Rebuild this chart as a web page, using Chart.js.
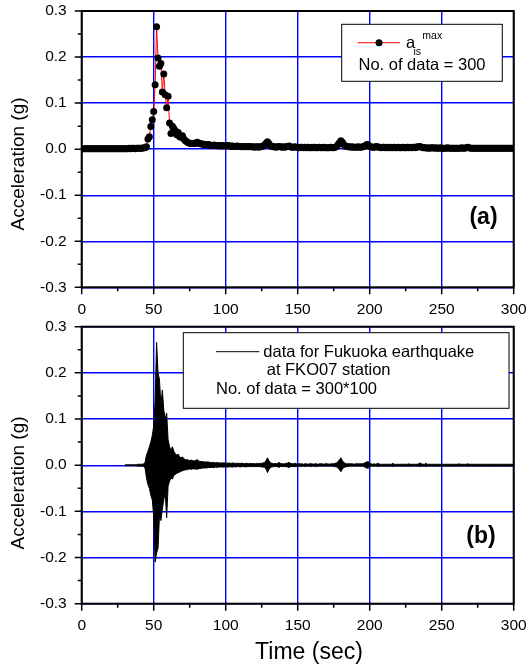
<!DOCTYPE html>
<html>
<head>
<meta charset="utf-8">
<script src="https://cdn.jsdelivr.net/npm/chart.js@4.4.0/dist/chart.umd.min.js"></script>
<style>
  body { margin: 0; background: #fff; }
  canvas { display: block; }
</style>
</head>
<body>
<canvas id="graficoA" width="527" height="320"></canvas>
<canvas id="graficoB" width="527" height="346"></canvas>
<script>
// tempo (s), um ponto por segundo
const segundos = Array.from({ length: 300 }, (_, i) => i + 1);

// (a) aceleracao maxima por segundo, a_is^max (g)
const aisMax = [
  0.001, 0.001, 0.001, 0.001, 0.001, 0.001, 0.001, 0.001, 0.001, 0.001,
  0.001, 0.001, 0.001, 0.001, 0.001, 0.001, 0.001, 0.001, 0.001, 0.001,
  0.001, 0.001, 0.001, 0.001, 0.001, 0.001, 0.001, 0.001, 0.001, 0.001,
  0.001, 0.001, 0.002, 0.001, 0.002, 0.002, 0.001, 0.002, 0.002, 0.002,
  0.002, 0.002, 0.003, 0.003, 0.005, 0.022, 0.027, 0.049, 0.064, 0.082,
  0.140, 0.266, 0.198, 0.180, 0.186, 0.124, 0.163, 0.118, 0.090, 0.115,
  0.057, 0.034, 0.050, 0.045, 0.040, 0.031, 0.036, 0.027, 0.026, 0.029,
  0.022, 0.018, 0.016, 0.014, 0.013, 0.012, 0.013, 0.012, 0.012, 0.015,
  0.014, 0.012, 0.011, 0.011, 0.010, 0.010, 0.009, 0.010, 0.009, 0.008,
  0.008, 0.009, 0.008, 0.008, 0.007, 0.008, 0.007, 0.008, 0.007, 0.008,
  0.007, 0.008, 0.007, 0.006, 0.007, 0.006, 0.006, 0.007, 0.006, 0.006,
  0.005, 0.006, 0.005, 0.006, 0.005, 0.005, 0.006, 0.005, 0.005, 0.004,
  0.005, 0.005, 0.004, 0.005, 0.006, 0.007, 0.009, 0.013, 0.016, 0.012,
  0.008, 0.006, 0.005, 0.005, 0.004, 0.005, 0.006, 0.005, 0.004, 0.005,
  0.004, 0.005, 0.006, 0.007, 0.005, 0.004, 0.004, 0.005, 0.004, 0.004,
  0.003, 0.004, 0.004, 0.003, 0.004, 0.003, 0.004, 0.003, 0.003, 0.004,
  0.003, 0.004, 0.003, 0.003, 0.004, 0.003, 0.003, 0.004, 0.003, 0.003,
  0.003, 0.003, 0.004, 0.003, 0.003, 0.004, 0.006, 0.010, 0.014, 0.018,
  0.015, 0.010, 0.007, 0.006, 0.005, 0.005, 0.004, 0.005, 0.004, 0.004,
  0.004, 0.005, 0.004, 0.004, 0.005, 0.006, 0.008, 0.010, 0.009, 0.006,
  0.005, 0.004, 0.004, 0.005, 0.006, 0.004, 0.004, 0.003, 0.004, 0.004,
  0.003, 0.004, 0.003, 0.004, 0.003, 0.003, 0.004, 0.003, 0.003, 0.004,
  0.003, 0.003, 0.004, 0.003, 0.003, 0.004, 0.003, 0.004, 0.003, 0.004,
  0.004, 0.003, 0.005, 0.005, 0.006, 0.004, 0.003, 0.003, 0.003, 0.002,
  0.003, 0.002, 0.003, 0.003, 0.002, 0.003, 0.002, 0.002, 0.003, 0.002,
  0.002, 0.002, 0.002, 0.003, 0.002, 0.002, 0.002, 0.002, 0.002, 0.002,
  0.002, 0.002, 0.002, 0.003, 0.002, 0.002, 0.003, 0.004, 0.003, 0.002,
  0.002, 0.002, 0.002, 0.002, 0.002, 0.002, 0.002, 0.002, 0.002, 0.002,
  0.002, 0.002, 0.002, 0.002, 0.002, 0.002, 0.002, 0.002, 0.002, 0.002,
  0.002, 0.002, 0.002, 0.002, 0.002, 0.002, 0.002, 0.002, 0.002, 0.002
];

// (b) registro do sismo: pico e vale lidos em cada segundo (g)
const picoSismo = [
  null, null, null, null, null, null, null, null, null, null,
  null, null, null, null, null, null, null, null, null, null,
  null, null, null, null, null, null, null, null, null, 0.001,
  0.001, 0.001, 0.001, 0.001, 0.001, 0.001, 0.001, 0.001, 0.002, 0.002,
  0.002, 0.002, 0.003, 0.006, 0.022, 0.030, 0.040, 0.050, 0.064, 0.085,
  0.140, 0.266, 0.200, 0.186, 0.130, 0.163, 0.120, 0.100, 0.113, 0.055,
  0.040, 0.032, 0.040, 0.030, 0.025, 0.022, 0.024, 0.018, 0.016, 0.018,
  0.014, 0.012, 0.012, 0.011, 0.010, 0.011, 0.010, 0.009, 0.010, 0.012,
  0.010, 0.008, 0.008, 0.008, 0.007, 0.007, 0.007, 0.007, 0.006, 0.006,
  0.006, 0.006, 0.005, 0.006, 0.005, 0.005, 0.005, 0.005, 0.005, 0.005,
  0.004, 0.005, 0.004, 0.004, 0.005, 0.004, 0.004, 0.004, 0.004, 0.004,
  0.004, 0.004, 0.003, 0.004, 0.004, 0.003, 0.004, 0.003, 0.004, 0.003,
  0.003, 0.004, 0.003, 0.004, 0.004, 0.005, 0.006, 0.010, 0.016, 0.010,
  0.006, 0.004, 0.003, 0.004, 0.003, 0.004, 0.006, 0.004, 0.003, 0.003,
  0.003, 0.004, 0.005, 0.006, 0.004, 0.003, 0.003, 0.004, 0.003, 0.003,
  0.003, 0.003, 0.003, 0.002, 0.003, 0.003, 0.002, 0.003, 0.003, 0.003,
  0.002, 0.003, 0.003, 0.002, 0.003, 0.003, 0.003, 0.002, 0.003, 0.003,
  0.003, 0.002, 0.003, 0.003, 0.003, 0.004, 0.005, 0.008, 0.012, 0.016,
  0.010, 0.006, 0.004, 0.003, 0.003, 0.003, 0.003, 0.003, 0.002, 0.003,
  0.003, 0.003, 0.003, 0.003, 0.003, 0.004, 0.006, 0.007, 0.008, 0.004,
  0.003, 0.002, 0.003, 0.002, 0.003, 0.004, 0.002, 0.002, 0.002, 0.002,
  0.002, 0.002, 0.002, 0.002, 0.002, 0.004, 0.002, 0.002, 0.002, 0.002,
  0.002, 0.002, 0.002, 0.002, 0.002, 0.002, 0.003, 0.002, 0.002, 0.002,
  0.002, 0.002, 0.002, 0.003, 0.005, 0.003, 0.002, 0.002, 0.004, 0.002,
  0.002, 0.002, 0.002, 0.002, 0.002, 0.002, 0.002, 0.002, 0.002, 0.002,
  0.002, 0.002, 0.002, 0.002, 0.002, 0.002, 0.002, 0.002, 0.002, 0.002,
  0.002, 0.003, 0.002, 0.002, 0.002, 0.002, 0.002, 0.003, 0.002, 0.002,
  0.002, 0.002, 0.002, 0.002, 0.002, 0.002, 0.002, 0.002, 0.002, 0.002,
  0.002, 0.002, 0.002, 0.002, 0.002, 0.002, 0.002, 0.002, 0.002, 0.002,
  0.002, 0.002, 0.002, 0.002, 0.002, 0.002, 0.002, 0.002, 0.002, 0.002
];
const valeSismo = [
  null, null, null, null, null, null, null, null, null, null,
  null, null, null, null, null, null, null, null, null, null,
  null, null, null, null, null, null, null, null, null, -0.001,
  -0.001, -0.001, -0.001, -0.001, -0.001, -0.001, -0.001, -0.001, -0.002, -0.002,
  -0.002, -0.002, -0.003, -0.006, -0.028, -0.042, -0.050, -0.065, -0.075, -0.110,
  -0.210, -0.190, -0.180, -0.110, -0.120, -0.095, -0.075, -0.060, -0.114, -0.045,
  -0.035, -0.028, -0.030, -0.022, -0.020, -0.018, -0.016, -0.015, -0.013, -0.012,
  -0.011, -0.010, -0.010, -0.009, -0.008, -0.009, -0.008, -0.008, -0.008, -0.009,
  -0.008, -0.007, -0.007, -0.006, -0.006, -0.006, -0.006, -0.005, -0.005, -0.005,
  -0.005, -0.005, -0.004, -0.005, -0.004, -0.004, -0.004, -0.004, -0.004, -0.004,
  -0.004, -0.004, -0.003, -0.004, -0.004, -0.003, -0.004, -0.003, -0.003, -0.004,
  -0.003, -0.003, -0.003, -0.004, -0.003, -0.003, -0.003, -0.003, -0.003, -0.003,
  -0.003, -0.003, -0.003, -0.003, -0.004, -0.004, -0.005, -0.008, -0.016, -0.010,
  -0.005, -0.004, -0.003, -0.003, -0.003, -0.003, -0.005, -0.003, -0.003, -0.003,
  -0.003, -0.003, -0.004, -0.005, -0.003, -0.003, -0.003, -0.003, -0.003, -0.003,
  -0.002, -0.003, -0.002, -0.002, -0.003, -0.002, -0.002, -0.002, -0.003, -0.002,
  -0.002, -0.002, -0.003, -0.002, -0.002, -0.002, -0.002, -0.002, -0.002, -0.002,
  -0.002, -0.002, -0.002, -0.002, -0.003, -0.003, -0.004, -0.006, -0.010, -0.014,
  -0.009, -0.005, -0.004, -0.003, -0.003, -0.002, -0.002, -0.002, -0.002, -0.002,
  -0.002, -0.002, -0.002, -0.002, -0.002, -0.003, -0.005, -0.006, -0.007, -0.003,
  -0.002, -0.002, -0.002, -0.002, -0.002, -0.003, -0.002, -0.002, -0.002, -0.002,
  -0.002, -0.002, -0.002, -0.002, -0.002, -0.003, -0.002, -0.002, -0.002, -0.002,
  -0.002, -0.002, -0.002, -0.002, -0.002, -0.002, -0.002, -0.002, -0.002, -0.002,
  -0.002, -0.002, -0.002, -0.002, -0.003, -0.002, -0.002, -0.002, -0.003, -0.002,
  -0.002, -0.002, -0.002, -0.002, -0.002, -0.002, -0.002, -0.002, -0.002, -0.002,
  -0.002, -0.002, -0.002, -0.002, -0.002, -0.002, -0.002, -0.002, -0.002, -0.002,
  -0.002, -0.002, -0.002, -0.002, -0.002, -0.002, -0.002, -0.002, -0.002, -0.002,
  -0.002, -0.002, -0.002, -0.002, -0.002, -0.002, -0.002, -0.002, -0.002, -0.002,
  -0.002, -0.002, -0.002, -0.002, -0.002, -0.002, -0.002, -0.002, -0.002, -0.002,
  -0.002, -0.002, -0.002, -0.002, -0.002, -0.002, -0.002, -0.002, -0.002, -0.002
];

// eixos
const xMin = 0, xMax = 300, xPasso = 50, xPassoMenor = 25;
const yMin = -0.3, yMax = 0.3, yPasso = 0.1, yPassoMenor = 0.05;

const FONTE = '"Liberation Sans", Arial, sans-serif';
const ESQ = 81.7, DIR = 513.7; // bordas da area de plotagem (px)

// marcas dos eixos, moldura e textos
function desenharExtras(chart, extras) {
  const ctx = chart.ctx;
  const a = chart.chartArea;
  const sx = chart.scales.x, sy = chart.scales.y;
  ctx.save();

  // marcas (para fora)
  ctx.strokeStyle = '#000';
  ctx.lineWidth = 1.5;
  ctx.beginPath();
  for (let v = xMin; v <= xMax + 0.001; v += xPassoMenor) {
    const px = sx.getPixelForValue(v);
    const len = (Math.round(v) % xPasso === 0) ? 7 : 4;
    ctx.moveTo(px, a.bottom);
    ctx.lineTo(px, a.bottom + len);
  }
  for (let k = 0; k <= Math.round((yMax - yMin) / yPassoMenor); k++) {
    const v = yMin + k * yPassoMenor;
    const py = sy.getPixelForValue(v);
    const len = (k % 2 === 0) ? 7 : 4;
    ctx.moveTo(a.left, py);
    ctx.lineTo(a.left - len, py);
  }
  ctx.stroke();

  // moldura
  ctx.lineWidth = 2;
  ctx.strokeRect(a.left, a.top, a.right - a.left, a.bottom - a.top);

  // titulo do eixo y
  ctx.fillStyle = '#000';
  ctx.font = '19px ' + FONTE;
  ctx.textAlign = 'center';
  ctx.textBaseline = 'middle';
  ctx.save();
  ctx.translate(18.5, extras.yTituloY);
  ctx.rotate(-Math.PI / 2);
  ctx.fillText('Acceleration (g)', 0, 0);
  ctx.restore();

  // rotulo do painel
  ctx.font = 'bold 23px ' + FONTE;
  ctx.fillText(extras.rotulo, extras.rotuloX, extras.rotuloY);

  if (extras.xTitulo) {
    ctx.font = '23px ' + FONTE;
    ctx.fillText(extras.xTitulo, extras.xTituloX, extras.xTituloY);
  }

  // legenda
  const L = extras.legenda;
  ctx.fillStyle = '#fff';
  ctx.fillRect(L.x, L.y, L.w, L.h);
  ctx.strokeStyle = '#000';
  ctx.lineWidth = 1;
  ctx.strokeRect(L.x, L.y, L.w, L.h);
  L.desenhar(ctx);

  ctx.restore();
}

function opcoesEixos(altura, base) {
  return {
    x: {
      type: 'linear', min: xMin, max: xMax,
      ticks: { stepSize: xPasso, color: '#000', padding: 13, maxRotation: 0,
               font: { family: FONTE, size: 15.5 } },
      grid: { color: '#0000ff', lineWidth: 1.4, drawTicks: false },
      border: { display: false },
      afterFit: (s) => { s.height = altura - base; s.paddingLeft = 0; s.paddingRight = 0; }
    },
    y: {
      min: yMin, max: yMax,
      ticks: { stepSize: yPasso, color: '#000', padding: 15,
               font: { family: FONTE, size: 15.5 },
               callback: (v) => (Math.abs(v) < 1e-9 ? 0 : v).toFixed(1) },
      grid: { color: '#0000ff', lineWidth: 1.4, drawTicks: false },
      border: { display: false },
      afterFit: (s) => { s.width = ESQ; s.paddingTop = 0; s.paddingBottom = 0; }
    }
  };
}

// ---------- painel (a) ----------
const pontosA = segundos.map((t, i) => ({ x: t, y: aisMax[i] }));

new Chart(document.getElementById('graficoA'), {
  type: 'scatter',
  data: {
    datasets: [{
      label: 'a_is max',
      data: pontosA,
      showLine: true,
      borderColor: '#ff0000',
      borderWidth: 1,
      pointRadius: 3.5,
      pointBackgroundColor: '#000',
      pointBorderColor: '#000',
      pointBorderWidth: 0
    }]
  },
  options: {
    responsive: false,
    animation: false,
    layout: { padding: { top: 11, right: 527 - DIR, left: 0, bottom: 0 } },
    plugins: { legend: { display: false }, tooltip: { enabled: false } },
    scales: opcoesEixos(320, 287.3)
  },
  plugins: [{
    id: 'extrasA',
    afterDraw: (chart) => desenharExtras(chart, {
      yTituloY: 164,
      rotulo: '(a)', rotuloX: 483.5, rotuloY: 218,
      legenda: {
        x: 341.7, y: 24.3, w: 160.6, h: 57,
        desenhar: (ctx) => {
          ctx.strokeStyle = '#ff0000';
          ctx.beginPath();
          ctx.moveTo(357.7, 42.7);
          ctx.lineTo(400, 42.7);
          ctx.stroke();
          ctx.fillStyle = '#000';
          ctx.beginPath();
          ctx.arc(379, 42.7, 3.5, 0, Math.PI * 2);
          ctx.fill();
          ctx.textAlign = 'left';
          ctx.font = '16.5px ' + FONTE;
          ctx.fillText('a', 406, 43);
          ctx.font = '10.5px ' + FONTE;
          ctx.fillText('is', 413.5, 52.5);
          ctx.fillText('max', 422.3, 36.5);
          ctx.textAlign = 'center';
          ctx.font = '16.5px ' + FONTE;
          ctx.fillText('No. of data = 300', 422, 65.5);
        }
      }
    })
  }]
});

// ---------- painel (b) ----------
// envoltoria do sinal: pico e vale de cada segundo, area entre eles preenchida
const pontosPico = segundos.map((t, i) => ({ x: t, y: picoSismo[i] }));
const pontosVale = segundos.map((t, i) => ({ x: t, y: valeSismo[i] }));

new Chart(document.getElementById('graficoB'), {
  type: 'scatter',
  data: {
    datasets: [
      {
        label: 'data for Fukuoka earthquake at FKO07 station',
        data: pontosPico,
        showLine: true,
        borderColor: '#000',
        borderWidth: 1,
        backgroundColor: '#000',
        pointRadius: 0,
        fill: '+1'
      },
      {
        label: 'vale',
        data: pontosVale,
        showLine: true,
        borderColor: '#000',
        borderWidth: 1,
        pointRadius: 0,
        fill: false
      }
    ]
  },
  options: {
    responsive: false,
    animation: false,
    layout: { padding: { top: 6.7, right: 527 - DIR, left: 0, bottom: 0 } },
    plugins: { legend: { display: false }, tooltip: { enabled: false } },
    scales: opcoesEixos(346, 283.7)
  },
  plugins: [{
    id: 'extrasB',
    afterDraw: (chart) => desenharExtras(chart, {
      yTituloY: 163,
      rotulo: '(b)', rotuloX: 481, rotuloY: 216.5,
      xTitulo: 'Time (sec)', xTituloX: 309, xTituloY: 333,
      legenda: {
        x: 183.3, y: 12.7, w: 325.7, h: 75.6,
        desenhar: (ctx) => {
          ctx.strokeStyle = '#000';
          ctx.beginPath();
          ctx.moveTo(216, 31.7);
          ctx.lineTo(259.3, 31.7);
          ctx.stroke();
          ctx.fillStyle = '#000';
          ctx.textAlign = 'left';
          ctx.font = '16.5px ' + FONTE;
          ctx.fillText('data for Fukuoka earthquake', 263.3, 32);
          ctx.fillText('at FKO07 station', 266.7, 50.5);
          ctx.fillText('No. of data = 300*100', 216, 69.5);
        }
      }
    })
  }]
});
</script>
</body>
</html>
